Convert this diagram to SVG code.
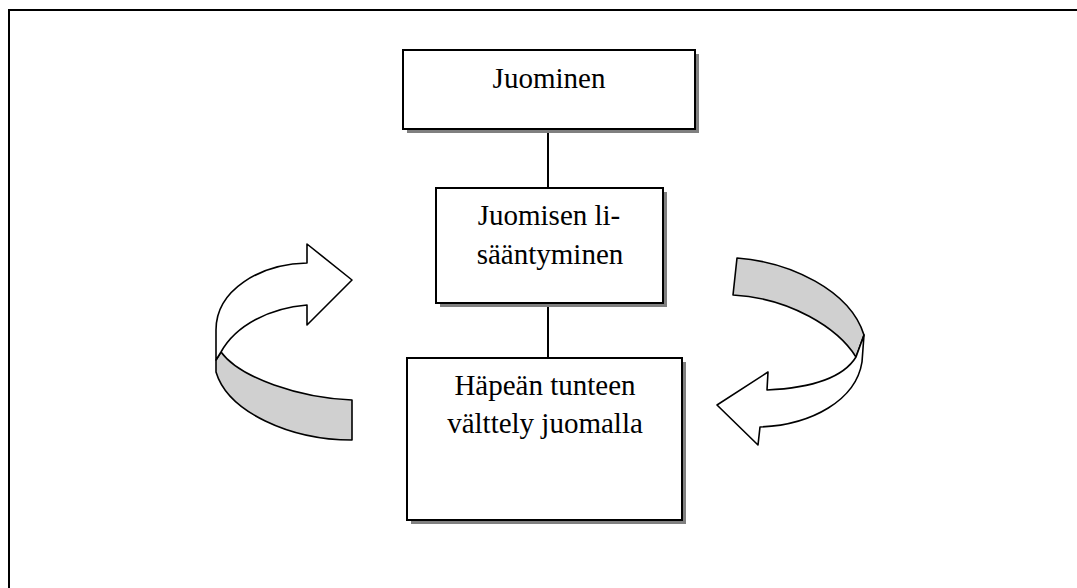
<svg xmlns="http://www.w3.org/2000/svg" width="1077" height="588" viewBox="0 0 1077 588">
<style>
.box{fill:#fff;stroke:#000;stroke-width:2}
.shadow{fill:#808080}
.t{font-family:"Liberation Serif","Times New Roman",serif;font-size:29px;fill:#000;text-anchor:middle}
.conn{stroke:#000;stroke-width:2;fill:none}
.aw{fill:#fff;stroke:#000;stroke-width:1.6;stroke-linejoin:round}
.ag{fill:#d0d0d0;stroke:#000;stroke-width:1.6;stroke-linejoin:round}
</style>
<rect x="0" y="0" width="1077" height="588" fill="#fff"/>
<rect x="9" y="10" width="1200" height="700" fill="none" stroke="#000" stroke-width="2"/>
<g id="connectors">
<line class="conn" x1="548" y1="130" x2="548" y2="188"/>
<line class="conn" x1="548" y1="304" x2="548" y2="358"/>
</g>
<g id="node-juominen">
<rect class="shadow" x="407" y="54" width="292" height="79"/>
<rect class="box" x="403" y="50" width="292" height="79"/>
<text class="t" x="549" y="88">Juominen</text>
</g>
<g id="node-lisaantyminen">
<rect class="shadow" x="440" y="192" width="227" height="115"/>
<rect class="box" x="436" y="188" width="227" height="115"/>
<text class="t" x="549" y="225">Juomisen li-</text>
<text class="t" x="550" y="264">sääntyminen</text>
</g>
<g id="node-hapea">
<rect class="shadow" x="411" y="362" width="275" height="162"/>
<rect class="box" x="407" y="358" width="275" height="162"/>
<text class="t" x="545" y="395">Häpeän tunteen</text>
<text class="t" x="545" y="433">välttely juomalla</text>
</g>
<g id="arrow-left">
<path class="ag" d="M221,352 C240,378 300,398 352,400 L352,440 C290,440 228,412 216,372 L216,360 Z"/>
<path class="aw" d="M307,263 L307,244 L352,280 L307,325 L307,305 C270,308 236,325 221,352 L216,360 L216,330 C216,290 260,264 307,263 Z"/>
</g>
<g id="arrow-right">
<path class="ag" d="M737,258 C790,262 850,290 864,335 L856,357 C838,328 790,298 733,295 Z"/>
<path class="aw" d="M856,357 L864,335 L862,362 C856,400 812,425 760,427 L758,445 L717,405 L768,372 L767,390 C810,388 843,378 856,357 Z"/>
</g>
</svg>
